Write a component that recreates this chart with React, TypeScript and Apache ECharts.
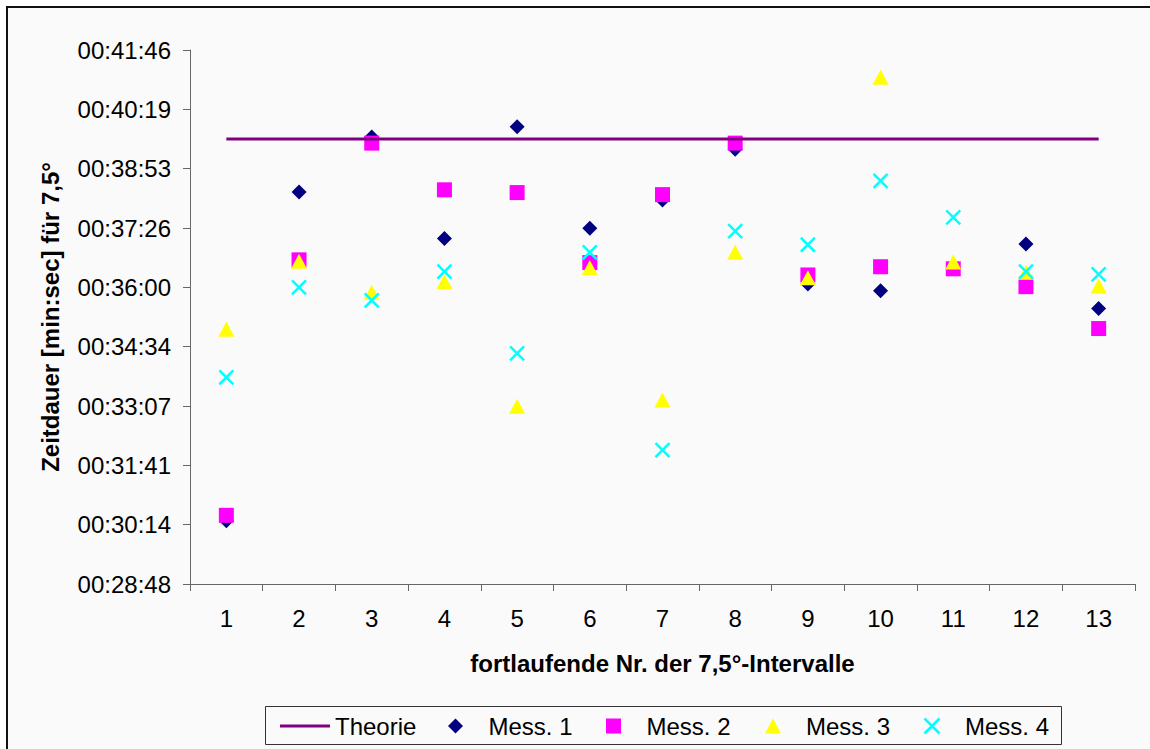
import React, { useEffect, useRef } from "react";
import * as echarts from "echarts";

const categories = ["1", "2", "3", "4", "5", "6", "7", "8", "9", "10", "11", "12", "13"];
// values in seconds
const theorie = [2376, 2376, 2376, 2376, 2376, 2376, 2376, 2376, 2376, 2376, 2376, 2376, 2376];
const mess1 = [1820, 2299, 2379, 2231, 2394, 2246, 2287, 2361, 2165, 2155, 2187, 2223, 2129];
const mess2 = [1828, 2200, 2370, 2302, 2298, 2196, 2295, 2370, 2178, 2190, 2187, 2161, 2100];
const mess3 = [2099, 2198, 2153, 2168, 1987, 2189, 1996, 2211, 2174, 2466, 2197, 2182, 2162];
const mess4 = [2029, 2160, 2141, 2183, 2064, 2211, 1923, 2242, 2222, 2315, 2262, 2183, 2179];

const yMin = 1728;
const yMax = 2505.6;
const yInterval = 86.4;

const FONT = "'Liberation Sans', Arial, sans-serif";
const CROSS = "path://M0,0L10,10M10,0L0,10";
const DIAMOND_ICON = "path://M5,0L10,5L5,10L0,5Z";
const SQUARE_ICON = "path://M0,0H10V10H0Z";
const TRIANGLE_ICON = "path://M5.33,0L10.67,10H0Z";
const LINE_ICON = "path://M0,0H50V3H0Z";

function fmt(v: number): string {
  const s = Math.round(v);
  const m = Math.floor(s / 60);
  const sec = s % 60;
  const p = (n: number) => (n < 10 ? "0" + n : "" + n);
  return "00:" + p(m) + ":" + p(sec);
}

const legendText = { fontFamily: FONT, fontSize: 24, color: "#000", lineHeight: 24 };

function markerLegend(name: string, icon: string, left: number, itemStyle: any) {
  return {
    data: [{ name, icon, itemStyle }],
    left,
    top: 714,
    padding: 0,
    itemWidth: 56,
    itemHeight: 15,
    symbolKeepAspect: true,
    textStyle: legendText,
  };
}

export default function App() {
  const ref = useRef<HTMLDivElement>(null);
  useEffect(() => {
    if (!ref.current) return;
    const chart = echarts.init(ref.current, undefined, { renderer: "svg" });
    const axisColor = "#666";
    chart.setOption({
      animation: false,
      backgroundColor: "#ffffff",
      textStyle: { fontFamily: FONT },
      graphic: [
        {
          type: "rect",
          z: -10,
          silent: true,
          shape: { x: 7, y: 7, width: 1200, height: 800 },
          style: { fill: "#fafafa", stroke: "#111", lineWidth: 2 },
        },
        {
          type: "rect",
          z: -5,
          silent: true,
          shape: { x: 265.5, y: 706.5, width: 796, height: 38 },
          style: { fill: "#fafafa", stroke: "#333", lineWidth: 1 },
        },
      ],
      grid: { left: 190, right: 15, top: 50, bottom: 165, containLabel: false },
      xAxis: {
        type: "category",
        data: categories,
        boundaryGap: true,
        name: "fortlaufende Nr. der 7,5°-Intervalle",
        nameLocation: "middle",
        nameGap: 67,
        nameTextStyle: { fontFamily: FONT, fontSize: 24, fontWeight: "bold", color: "#000" },
        axisLine: { lineStyle: { color: axisColor, width: 1 } },
        axisTick: { show: true, length: 7, lineStyle: { color: axisColor } },
        axisLabel: { fontFamily: FONT, fontSize: 24, color: "#000", margin: 22 },
        splitLine: { show: false },
      },
      yAxis: {
        type: "value",
        min: yMin,
        max: yMax,
        interval: yInterval,
        name: "Zeitdauer [min:sec] für 7,5°",
        nameLocation: "middle",
        nameRotate: 90,
        nameGap: 128,
        nameTextStyle: { fontFamily: FONT, fontSize: 24, fontWeight: "bold", color: "#000" },
        axisLine: { show: true, lineStyle: { color: axisColor, width: 1 } },
        axisTick: { show: true, length: 7, lineStyle: { color: axisColor } },
        axisLabel: { fontFamily: FONT, fontSize: 24, color: "#000", margin: 19, formatter: fmt },
        splitLine: { show: false },
      },
      legend: [
        {
          data: [{ name: "Theorie", icon: LINE_ICON, itemStyle: { color: "#800080" } }],
          left: 280,
          top: 714,
          padding: 0,
          itemWidth: 50,
          itemHeight: 15,
          symbolKeepAspect: true,
          textStyle: legendText,
        },
        markerLegend("Mess. 1", DIAMOND_ICON, 448, { color: "#000080" }),
        markerLegend("Mess. 2", SQUARE_ICON, 606, { color: "#FF00FF" }),
        markerLegend("Mess. 3", TRIANGLE_ICON, 765, { color: "#FFFF00" }),
        markerLegend("Mess. 4", CROSS, 922, {
          color: "none",
          borderColor: "#00FFFF",
          borderWidth: 2.5,
        }),
      ],
      series: [
        {
          name: "Theorie",
          type: "line",
          data: theorie,
          symbol: "none",
          showSymbol: false,
          lineStyle: { color: "#800080", width: 3 },
          itemStyle: { color: "#800080" },
        },
        {
          name: "Mess. 1",
          type: "scatter",
          data: mess1,
          symbol: "diamond",
          symbolSize: 15,
          itemStyle: { color: "#000080", opacity: 1 },
        },
        {
          name: "Mess. 2",
          type: "scatter",
          data: mess2,
          symbol: "rect",
          symbolSize: 15,
          itemStyle: { color: "#FF00FF", opacity: 1 },
        },
        {
          name: "Mess. 3",
          type: "scatter",
          data: mess3,
          symbol: "triangle",
          symbolSize: [16, 15],
          itemStyle: { color: "#FFFF00", opacity: 1 },
        },
        {
          name: "Mess. 4",
          type: "scatter",
          data: mess4,
          symbol: CROSS,
          symbolSize: 14,
          itemStyle: { color: "none", borderColor: "#00FFFF", borderWidth: 2.5, opacity: 1 },
        },
      ],
    });
    return () => chart.dispose();
  }, []);
  return (
    <div
      ref={ref}
      style={{ position: "fixed", left: 0, top: 0, width: 1150, height: 749, background: "#fff" }}
    />
  );
}
